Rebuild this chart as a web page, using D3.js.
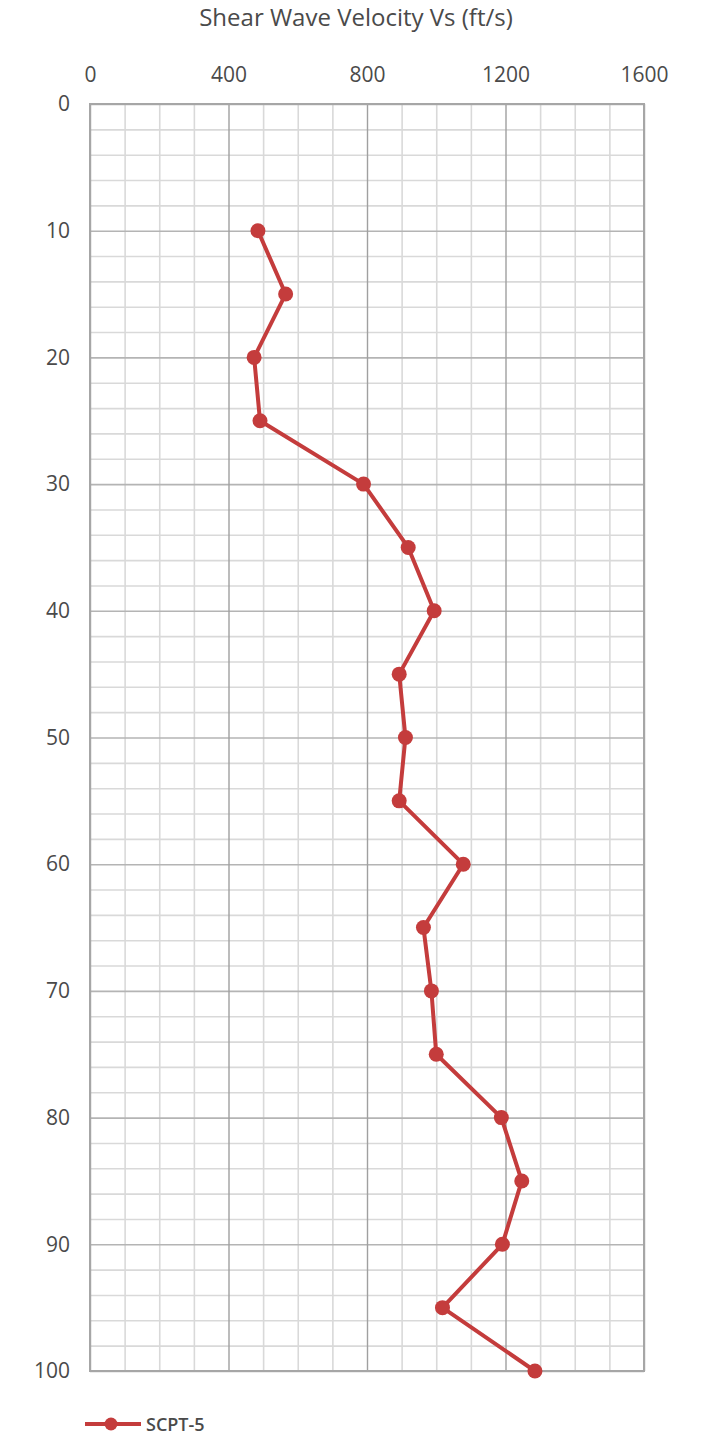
<!DOCTYPE html>
<html>
<head>
<meta charset="utf-8">
<script src="https://cdn.jsdelivr.net/npm/d3@7/dist/d3.min.js"></script>
<style>
  html, body { margin: 0; padding: 0; background: #ffffff; }
  svg { display: block; }
  text { font-family: "Open Sans", "Liberation Sans", sans-serif; fill: #4a4a4a; }
</style>
</head>
<body>
<svg id="chart" width="706" height="1439"></svg>
<script>
// SCPT-5 shear wave velocity profile
const depths = [10, 15, 20, 25, 30, 35, 40, 45, 50, 55, 60, 65, 70, 75, 80, 85, 90, 95, 100];
const velocities = [485, 565, 474, 491, 790, 919, 994, 893, 911, 893, 1078, 963, 986, 1000, 1188, 1247, 1191, 1018, 1285];
const velocityTicks = [0, 400, 800, 1200, 1600];
const depthTicks = [0, 10, 20, 30, 40, 50, 60, 70, 80, 90, 100];
const seriesName = "SCPT-5";
const titleText = "Shear Wave Velocity Vs (ft/s)";

const plot = { left: 90, right: 644, top: 104, bottom: 1371 };
const red = "#c43c3c";

const svg = d3.select("#chart");

const x = d3.scaleLinear().domain([0, 1600]).range([plot.left, plot.right]);
const y = d3.scaleLinear().domain([0, 100]).range([plot.top, plot.bottom]);

const pw = plot.right - plot.left, ph = plot.bottom - plot.top;

// minor grid
const minorX = d3.range(0, 1601, 100).filter(v => v % 400 !== 0);
const minorY = d3.range(0, 101, 2).filter(v => v % 10 !== 0);

const grid = svg.append("g");
grid.append("g")
  .attr("transform", `translate(0,${plot.top})`)
  .call(d3.axisTop(x).tickValues(minorX).tickSize(-ph).tickFormat(""))
  .call(g => g.select(".domain").remove())
  .call(g => g.selectAll("line").attr("stroke", "#d9d9d9").attr("stroke-width", 1.6));
grid.append("g")
  .attr("transform", `translate(${plot.left},0)`)
  .call(d3.axisLeft(y).tickValues(minorY).tickSize(-pw).tickFormat(""))
  .call(g => g.select(".domain").remove())
  .call(g => g.selectAll("line").attr("stroke", "#d9d9d9").attr("stroke-width", 1.6));

// major grid
grid.append("g")
  .attr("transform", `translate(${plot.left},0)`)
  .call(d3.axisLeft(y).tickValues(depthTicks).tickSize(-pw).tickFormat(""))
  .call(g => g.select(".domain").remove())
  .call(g => g.selectAll("line").attr("stroke", "#b4b4b4").attr("stroke-width", 1.6));
grid.append("g")
  .attr("transform", `translate(0,${plot.top})`)
  .call(d3.axisTop(x).tickValues(velocityTicks).tickSize(-ph).tickFormat(""))
  .call(g => g.select(".domain").remove())
  .call(g => g.selectAll("line").attr("stroke", "#a0a0a0").attr("stroke-width", 1.4));

// plot border
svg.append("rect")
  .attr("x", plot.left).attr("y", plot.top)
  .attr("width", pw).attr("height", ph)
  .attr("fill", "none").attr("stroke", "#a6a6a6").attr("stroke-width", 2);

// axis labels
const xAxis = svg.append("g")
  .attr("transform", `translate(0,${plot.top})`)
  .call(d3.axisTop(x).tickValues(velocityTicks).tickSize(0).tickPadding(22).tickFormat(d3.format("d")));
xAxis.select(".domain").remove();
xAxis.selectAll("text")
  .style("font-family", "'Open Sans', sans-serif")
  .style("font-size", "21px").attr("fill", "#4a4a4a");

const yAxis = svg.append("g")
  .attr("transform", `translate(${plot.left},0)`)
  .call(d3.axisLeft(y).tickValues(depthTicks).tickSize(0).tickPadding(20).tickFormat(d3.format("d")));
yAxis.select(".domain").remove();
yAxis.selectAll("text")
  .style("font-family", "'Open Sans', sans-serif")
  .style("font-size", "21px").attr("fill", "#4a4a4a");

// title
svg.append("text")
  .attr("x", 356).attr("y", 26)
  .attr("text-anchor", "middle")
  .style("font-size", "24px")
  .text(titleText);

// series
const pts = depths.map((d, i) => ({ depth: d, vs: velocities[i] }));
const line = d3.line().x(d => x(d.vs)).y(d => y(d.depth));
svg.append("path")
  .datum(pts)
  .attr("d", line)
  .attr("fill", "none")
  .attr("stroke", red)
  .attr("stroke-width", 4)
  .attr("stroke-linejoin", "round");
svg.append("g").selectAll("circle")
  .data(pts).join("circle")
  .attr("cx", d => x(d.vs)).attr("cy", d => y(d.depth))
  .attr("r", 7.5).attr("fill", red);

// legend
const lg = svg.append("g").attr("transform", "translate(85,1424)");
lg.append("line").attr("x1", 0).attr("x2", 56).attr("y1", 0).attr("y2", 0)
  .attr("stroke", red).attr("stroke-width", 4);
lg.append("circle").attr("cx", 26).attr("cy", 0).attr("r", 6.5).attr("fill", red);
lg.append("text").attr("x", 61).attr("y", 6.5)
  .style("font-size", "18px").style("font-weight", "600")
  .text(seriesName);
</script>
</body>
</html>
